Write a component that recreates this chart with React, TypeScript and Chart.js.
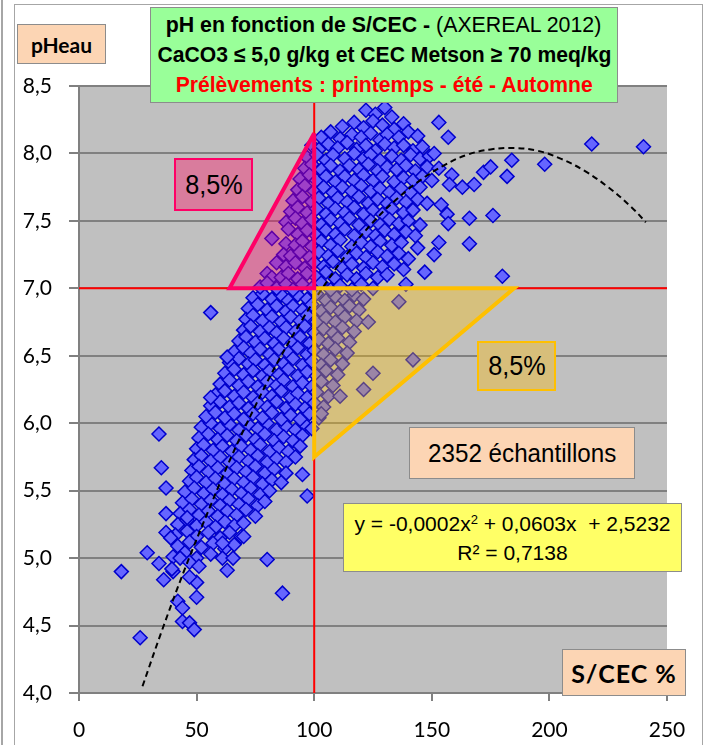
import React, { useEffect, useRef } from "react";
import { Chart, registerables } from "chart.js";

Chart.register(...registerables);

// ---- axis ticks ----
const xTickLabels = ["0", "50", "100", "150", "200", "250"];
const yTickLabels = ["4,0", "4,5", "5,0", "5,5", "6,0", "6,5", "7,0", "7,5", "8,0", "8,5"];

// ---- scatter cloud (S/CEC %, pHeau) ----
const cloudUpper: number[][] = [
  [122,8.32],[126,8.29],[130,8.34],[133,8.27],
  [112,8.2],[117,8.23],[121,8.19],[125,8.24],[129,8.21],[134,8.18],[138,8.22],
  [103,8.12],[107,8.16],[111,8.11],[116,8.14],[120,8.12],[124,8.15],[128,8.1],[131,8.14],[136,8.12],[140,8.16],[144,8.13],
  [99,8.06],[102,8.03],[106,8.07],[110,8.04],[114,8.08],[118,8.03],[122,8.06],[126,8.02],[130,8.07],[134,8.04],[138,8.06],[142,8.02],[146,8.05],
  [97,7.97],[101,7.99],[105,7.95],[108,7.99],[113,7.96],[117,8.0],[121,7.96],[124,7.99],[128,7.95],[133,7.98],[137,7.95],[141,7.99],[145,7.96],[149,7.98],
  [96,7.89],[99,7.92],[103,7.88],[107,7.91],[111,7.87],[115,7.91],[119,7.88],[123,7.92],[127,7.87],[131,7.9],[135,7.88],[139,7.91],[143,7.87],[148,7.9],
  [94,7.81],[98,7.84],[101,7.8],[105,7.83],[109,7.79],[113,7.83],[117,7.8],[121,7.84],[125,7.8],[129,7.83],[134,7.79],[138,7.82],[142,7.8],[146,7.83],[150,7.8],
  [93,7.73],[96,7.76],[100,7.72],[104,7.75],[108,7.71],[112,7.75],[116,7.72],[120,7.76],[124,7.72],[128,7.74],[132,7.71],[137,7.74],[141,7.71],[145,7.75],
  [91,7.65],[95,7.68],[99,7.64],[102,7.67],[106,7.63],[110,7.67],[114,7.64],[119,7.68],[123,7.63],[127,7.66],[131,7.63],[135,7.67],[139,7.64],[144,7.66],[148,7.63],
  [90,7.57],[93,7.6],[97,7.56],[101,7.59],[105,7.55],[109,7.59],[113,7.56],[117,7.6],[121,7.55],[125,7.58],[129,7.55],[133,7.59],[138,7.56],[142,7.58],
  [88,7.49],[92,7.52],[95,7.48],[99,7.51],[103,7.47],[107,7.51],[111,7.48],[115,7.52],[119,7.47],[124,7.5],[128,7.47],[132,7.51],[136,7.48],[140,7.5],[145,7.47],
  [89,7.44],[93,7.4],[97,7.43],[101,7.39],[105,7.43],[109,7.4],[113,7.44],[117,7.39],[122,7.42],[126,7.39],[130,7.43],[134,7.4],[139,7.42],[143,7.39],
  [82,7.37],[88,7.33],[92,7.32],[95,7.35],[99,7.31],[103,7.35],[107,7.32],[111,7.36],[116,7.31],[120,7.34],[124,7.31],[128,7.35],[133,7.32],[137,7.34],
  [87,7.25],[90,7.24],[94,7.27],[98,7.23],[102,7.27],[106,7.24],[110,7.28],[114,7.23],[118,7.26],[122,7.23],[127,7.27],[131,7.24],[136,7.26],[140,7.22],
  [84,7.19],[88,7.16],[92,7.19],[96,7.15],[100,7.19],[104,7.16],[108,7.2],[112,7.15],[116,7.18],[121,7.15],[125,7.19],[129,7.16],[134,7.18],[138,7.14],
  [80,7.11],[82,7.08],[86,7.08],[89,7.11],[93,7.07],[97,7.11],[101,7.08],[105,7.12],[109,7.07],[114,7.1],[118,7.07],[122,7.11],[127,7.08],[131,7.1],
  [77,7.01],[80,7.04],[84,7.0],[88,7.03],[91,6.99],[95,7.03],[99,7.0],[103,7.04],[107,6.99],[111,7.02],[116,6.99],[120,7.03],[125,7.0]
];

const cloudMiddle: number[][] = [
  [74,6.93],[78,6.96],[82,6.92],[86,6.95],[89,6.91],[93,6.95],[97,6.92],[101,6.96],[105,6.91],[109,6.94],[113,6.91],[117,6.95],[121,6.92],
  [72,6.85],[76,6.88],[80,6.84],[84,6.87],[88,6.83],[91,6.87],[95,6.84],[99,6.88],[103,6.83],[107,6.86],[111,6.83],[115,6.87],[119,6.84],
  [71,6.77],[74,6.8],[78,6.76],[82,6.79],[86,6.75],[90,6.79],[94,6.76],[97,6.8],[101,6.75],[105,6.78],[109,6.75],[113,6.79],[118,6.76],
  [70,6.69],[73,6.72],[77,6.68],[81,6.71],[84,6.67],[88,6.71],[92,6.68],[96,6.72],[100,6.67],[104,6.7],[108,6.67],[112,6.71],[117,6.68],
  [68,6.61],[71,6.64],[75,6.6],[79,6.63],[83,6.59],[87,6.63],[91,6.6],[94,6.64],[98,6.59],[102,6.62],[106,6.59],[110,6.63],[115,6.6],
  [66,6.53],[70,6.56],[73,6.52],[77,6.55],[81,6.51],[85,6.55],[89,6.52],[93,6.56],[97,6.51],[100,6.54],[104,6.51],[109,6.55],[114,6.52],
  [64,6.45],[68,6.48],[72,6.44],[75,6.47],[79,6.43],[83,6.47],[87,6.44],[91,6.48],[95,6.43],[99,6.46],[103,6.43],[107,6.47],[112,6.44],
  [62,6.37],[66,6.4],[70,6.36],[74,6.39],[78,6.35],[81,6.39],[85,6.36],[89,6.4],[93,6.35],[97,6.38],[101,6.35],[105,6.39],[110,6.36],
  [60,6.29],[64,6.32],[68,6.28],[72,6.31],[76,6.27],[80,6.31],[84,6.28],[87,6.32],[91,6.27],[95,6.3],[99,6.27],[103,6.31],[108,6.28],
  [58,6.21],[62,6.24],[66,6.2],[70,6.23],[74,6.19],[78,6.23],[82,6.2],[86,6.24],[90,6.19],[93,6.22],[97,6.19],[101,6.23],[106,6.2],
  [56,6.13],[60,6.16],[64,6.12],[68,6.15],[72,6.11],[76,6.15],[80,6.12],[84,6.16],[88,6.11],[92,6.14],[96,6.11],[100,6.15],[104,6.12],
  [54,6.05],[58,6.08],[62,6.04],[66,6.07],[70,6.03],[74,6.07],[78,6.04],[82,6.08],[86,6.03],[90,6.06],[94,6.03],[98,6.07],[102,6.04]
];

const cloudLower: number[][] = [
  [52,5.97],[56,6.0],[60,5.96],[64,5.99],[68,5.95],[72,5.99],[76,5.96],[80,6.0],[84,5.95],[88,5.98],[92,5.95],[96,5.99],[99,5.96],
  [51,5.89],[55,5.92],[59,5.88],[63,5.91],[67,5.87],[71,5.91],[75,5.88],[79,5.92],[83,5.87],[87,5.9],[91,5.87],[95,5.91],
  [50,5.81],[53,5.84],[57,5.8],[61,5.83],[65,5.79],[69,5.83],[73,5.8],[77,5.84],[81,5.79],[85,5.82],[89,5.79],[94,5.83],
  [49,5.73],[52,5.76],[56,5.72],[60,5.75],[64,5.71],[68,5.75],[72,5.72],[76,5.76],[80,5.71],[84,5.74],[88,5.71],[92,5.75],
  [48,5.65],[51,5.68],[55,5.64],[59,5.67],[63,5.63],[67,5.67],[71,5.64],[75,5.68],[79,5.63],[83,5.66],[88,5.63],
  [47,5.57],[50,5.6],[54,5.56],[58,5.59],[62,5.55],[66,5.59],[70,5.56],[74,5.6],[78,5.55],[82,5.58],[86,5.56],
  [45,5.49],[49,5.52],[53,5.48],[57,5.51],[61,5.47],[65,5.51],[69,5.48],[73,5.52],[77,5.47],[81,5.5],
  [44,5.41],[48,5.44],[52,5.4],[56,5.43],[60,5.39],[64,5.43],[68,5.4],[72,5.44],[76,5.39],[79,5.42],
  [43,5.33],[47,5.36],[51,5.32],[55,5.35],[59,5.31],[63,5.35],[67,5.32],[71,5.36],[75,5.31],
  [42,5.25],[46,5.28],[50,5.24],[54,5.27],[58,5.23],[62,5.27],[66,5.24],[70,5.26],
  [41,5.17],[46,5.2],[50,5.16],[55,5.19],[60,5.15],[64,5.19],[69,5.16],
  [42,5.09],[47,5.12],[52,5.08],[57,5.11],[62,5.07],[66,5.1],
  [40,5.01],[45,5.04],[50,5.0],[56,5.03],[61,5.0]
];

const sparseLeft: number[][] = [
  [56,6.82],[63,6.49],[56,6.19],[34,5.92],[35,5.67],[37,5.52],[37,5.33],[37,5.19],[39,5.15],[29,5.04],
  [18,4.9],[34,4.96],[36,4.84],[40,4.9],[43,5.0],[47,4.97],[50,4.82],[42,4.68],[44,4.63],[50,4.71],
  [63,4.91],[65.5,5.0],[70,5.16],[61,5.11],[80,4.99],[86.5,4.74],[46,5.3],[26,4.41],[44,4.53],[47,4.52],
  [49,4.47],[47,4.86],[51,4.94],[39.5,4.92],[95,5.62],[97,5.46]
];

const sparseRight: number[][] = [
  [136,6.9],[123,6.75],[142,6.47],[125,6.37],[121,6.25],[111,6.2],[103,6.07],[139,7.03],
  [153,8.23],[157,8.12],[151,8.0],[153,7.89],[158.5,7.84],[157.5,7.77],[163,7.75],[168,7.77],[172,7.86],
  [175,7.9],[184,7.95],[182,7.83],[198,7.92],[218,8.07],[240,8.05],[154,7.62],[156.5,7.55],[157,7.48],
  [166,7.52],[176,7.54],[153,7.34],[151,7.25],[166,7.33],[180,7.09],[144,7.3],[147,7.12]
];

// ---- polynomial trend ----
const trendX = [27, 35, 45, 55, 65, 75, 85, 95, 105, 115, 125, 135, 145, 155, 165, 175, 185, 195, 205, 215, 225, 235, 241];
const trendY = [4.05, 4.45, 4.92, 5.35, 5.76, 6.13, 6.47, 6.77, 7.04, 7.28, 7.49, 7.66, 7.8, 7.91, 7.99, 8.03, 8.04, 8.02, 7.96, 7.87, 7.75, 7.6, 7.49];

// ---- threshold lines & triangles ----
const limitSCEC = 100;
const limitPH = 7.0;
const redTriX = [100, 64, 100, 100];
const redTriY = [8.15, 7.0, 7.0, 8.15];
const orangeTriX = [100, 185, 100, 100];
const orangeTriY = [7.0, 7.0, 5.75, 7.0];

const toXY = (arr: number[][]) => arr.map(([x, y]) => ({ x, y }));
const zipXY = (xs: number[], ys: number[]) => xs.map((x, i) => ({ x, y: ys[i] }));

const ARIAL = "'Liberation Sans',Arial,sans-serif";

const plotBg = {
  id: "plotBg",
  beforeDraw(chart: any) {
    const { ctx, chartArea: a } = chart;
    ctx.save();
    ctx.fillStyle = "#C0C0C0";
    ctx.fillRect(a.left, a.top, a.right - a.left, a.bottom - a.top);
    ctx.restore();
  },
};

const Squeeze = ({ s, children, style }: { s: number; children: React.ReactNode; style?: React.CSSProperties }) => (
  <span style={{ display: "inline-block", transform: `scaleX(${s})`, transformOrigin: "center", whiteSpace: "nowrap", ...style }}>{children}</span>
);

export default function App() {
  const ref = useRef<HTMLCanvasElement>(null);

  useEffect(() => {
    const lineBase = { showLine: true, pointRadius: 0, pointHoverRadius: 0, fill: false };
    const chart = new Chart(ref.current!, {
      type: "scatter",
      data: {
        datasets: [
          {
            ...lineBase,
            label: "rouge",
            data: zipXY(redTriX, redTriY),
            borderColor: "#FF0066",
            borderWidth: 4,
            backgroundColor: "rgba(255,0,102,0.37)",
            fill: "shape",
            order: 1,
          } as any,
          {
            ...lineBase,
            label: "orange",
            data: zipXY(orangeTriX, orangeTriY),
            borderColor: "#FFC000",
            borderWidth: 4,
            backgroundColor: "rgba(255,192,0,0.35)",
            fill: "shape",
            order: 1,
          } as any,
          {
            ...lineBase,
            label: "pH7",
            data: [{ x: 0, y: limitPH }, { x: 250, y: limitPH }],
            borderColor: "#FF0000",
            borderWidth: 2,
            order: 3,
          },
          {
            ...lineBase,
            label: "S100",
            data: [{ x: limitSCEC, y: 4 }, { x: limitSCEC, y: 8.5 }],
            borderColor: "#FF0000",
            borderWidth: 2,
            order: 3,
          },
          {
            ...lineBase,
            label: "trend",
            data: zipXY(trendX, trendY),
            borderColor: "#000000",
            borderWidth: 2,
            borderDash: [6, 4],
            tension: 0.4,
            order: 2,
          },
          {
            label: "pH",
            data: [
              ...toXY(cloudLower),
              ...toXY(cloudMiddle),
              ...toXY(cloudUpper),
              ...toXY(sparseLeft),
              ...toXY(sparseRight),
            ],
            pointStyle: "rectRot",
            pointRadius: 7,
            pointHoverRadius: 7,
            pointBackgroundColor: "#6666FF",
            pointBorderColor: "#0000CC",
            pointBorderWidth: 1.5,
            order: 10,
          },
        ],
      },
      options: {
        responsive: false,
        animation: false,
        devicePixelRatio: 1,
        layout: { padding: { left: 0, right: 40, top: 86, bottom: 0 } },
        plugins: { legend: { display: false }, tooltip: { enabled: false } },
        scales: {
          x: {
            type: "linear",
            min: 0,
            max: 250,
            ticks: {
              stepSize: 50,
              padding: 17,
              color: "#000",
              font: { family: "Lato", size: 21 },
              callback: (_v: any, i: number) => xTickLabels[i],
            },
            grid: { drawOnChartArea: false, drawTicks: true, tickLength: 8, color: "#808080", lineWidth: 2 },
            border: { display: true, color: "#808080", width: 2 },
            afterFit: (s: any) => { s.height = 52; },
          },
          y: {
            type: "linear",
            min: 4,
            max: 8.5,
            ticks: {
              stepSize: 0.5,
              padding: 17,
              color: "#000",
              font: { family: "Lato", size: 21 },
              callback: (_v: any, i: number) => yTickLabels[i],
            },
            grid: { drawOnChartArea: true, drawTicks: true, tickLength: 10, color: "#808080", lineWidth: 2 },
            border: { display: true, color: "#808080", width: 2 },
            afterFit: (s: any) => { s.width = 79; },
          },
        },
      } as any,
      plugins: [plotBg],
    });
    return () => chart.destroy();
  }, []);

  const box = (extra: React.CSSProperties): React.CSSProperties => ({
    position: "absolute",
    boxSizing: "border-box",
    display: "flex",
    flexDirection: "column",
    alignItems: "center",
    justifyContent: "center",
    border: "1.5px solid #8C8C8C",
    color: "#000",
    whiteSpace: "nowrap",
    ...extra,
  });

  return (
    <div style={{ position: "absolute", left: 0, top: 0, width: 707, height: 745, background: "#fff", overflow: "hidden" }}>
      <div style={{ position: "absolute", left: 1, top: 0, width: 2, height: 745, background: "#A6A6A6" }} />
      <div style={{ position: "absolute", left: 14, top: 4, width: 689, height: 780, border: "1.5px solid #A6A6A6", boxSizing: "border-box" }} />
      <canvas ref={ref} width={707} height={745} style={{ position: "absolute", left: 0, top: 0 }} />

      <div style={box({ left: 150, top: 7, width: 468, height: 96, background: "#99FF99", fontFamily: ARIAL, fontSize: 22, lineHeight: "30px" })}>
        <Squeeze s={0.97}><span style={{ fontWeight: 700 }}>pH en fonction de S/CEC - </span><span>(AXEREAL 2012)</span></Squeeze>
        <Squeeze s={0.96} style={{ fontWeight: 700 }}>CaCO3 ≤ 5,0 g/kg et CEC Metson ≥ 70 meq/kg</Squeeze>
        <Squeeze s={0.96} style={{ fontWeight: 700, color: "#FF0000" }}>Prélèvements : printemps - été - Automne</Squeeze>
      </div>

      <div style={box({ left: 17, top: 24, width: 89, height: 40, background: "#FCD5B4", fontFamily: "Lato", fontWeight: 700, fontSize: 21 })}>pHeau</div>

      <div style={box({ left: 562, top: 649, width: 124, height: 47, background: "#FCD5B4", fontFamily: "Lato", fontWeight: 700, fontSize: 25, letterSpacing: 1 })}>S/CEC %</div>

      <div style={box({ left: 409, top: 427, width: 226, height: 52, background: "#FCD5B4", fontFamily: ARIAL, fontSize: 26 })}>
        <Squeeze s={0.93}>2352 échantillons</Squeeze>
      </div>

      <div style={box({ left: 343, top: 503, width: 339, height: 69, background: "#FFFF66", fontFamily: ARIAL, fontSize: 21, lineHeight: "29px" })}>
        <Squeeze s={1.0}>y = -0,0002x<sup style={{ fontSize: 13, verticalAlign: "7px", lineHeight: 0 }}>2</sup> + 0,0603x &nbsp;+ 2,5232</Squeeze>
        <Squeeze s={1.0}>R² = 0,7138</Squeeze>
      </div>

      <div style={box({ left: 174, top: 158, width: 79, height: 53, background: "#D97C9D", border: "2.5px solid #FF0066", fontFamily: ARIAL, fontSize: 28 })}>
        <Squeeze s={0.9}>8,5%</Squeeze>
      </div>

      <div style={box({ left: 477, top: 341, width: 79, height: 50, background: "#D7BE7A", border: "2.5px solid #FFC000", fontFamily: ARIAL, fontSize: 28 })}>
        <Squeeze s={0.9}>8,5%</Squeeze>
      </div>
    </div>
  );
}
